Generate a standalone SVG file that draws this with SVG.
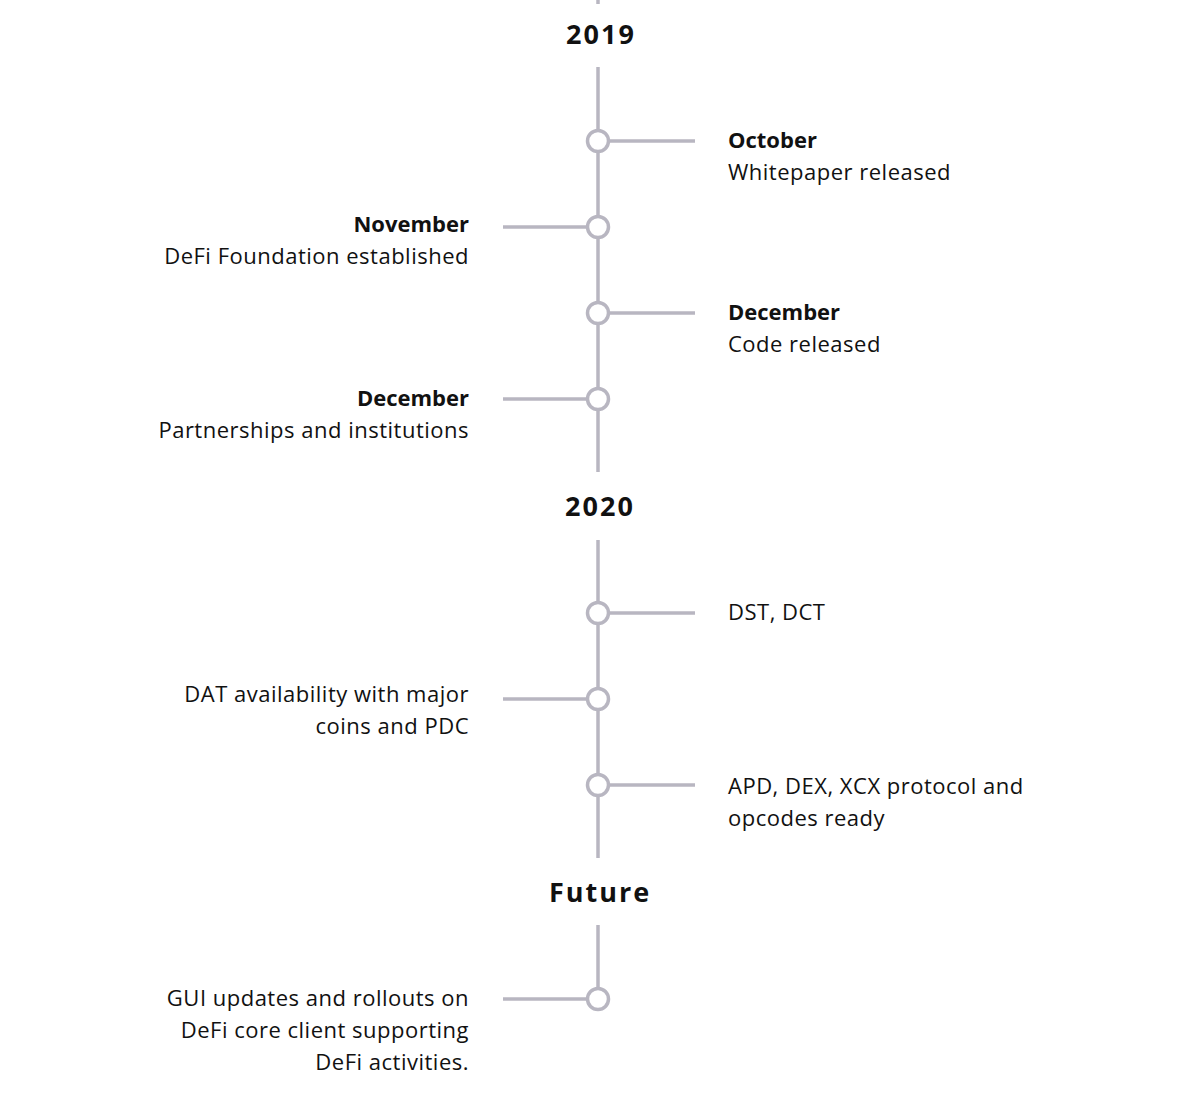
<svg xmlns="http://www.w3.org/2000/svg" width="1200" height="1120" viewBox="0 0 1200 1120">
<style>
.ln{stroke:#b8b6c1;stroke-width:3.5;fill:none}
.dot{stroke:#b8b6c1;stroke-width:3.5;fill:#fff}
.yr{font-family:"Open Sans","Liberation Sans",sans-serif;font-weight:700;font-size:27px;letter-spacing:2px;fill:#111;text-anchor:middle}
.b{font-family:"Open Sans","Liberation Sans",sans-serif;font-weight:700;font-size:22px;fill:#111}
.t{font-family:"Open Sans","Liberation Sans",sans-serif;font-size:22px;letter-spacing:0.5px;fill:#111}
.l{text-anchor:end}
</style>
<rect width="1200" height="1120" fill="#fff"/>
<g id="connectors">
<line class="ln" x1="598" y1="0" x2="598" y2="4"/>
<line class="ln" x1="598" y1="67" x2="598" y2="472"/>
<line class="ln" x1="598" y1="540" x2="598" y2="858"/>
<line class="ln" x1="598" y1="925" x2="598" y2="988"/>
<line class="ln" x1="609" y1="141" x2="695" y2="141"/>
<line class="ln" x1="503" y1="227" x2="587" y2="227"/>
<line class="ln" x1="609" y1="313" x2="695" y2="313"/>
<line class="ln" x1="503" y1="399" x2="587" y2="399"/>
<line class="ln" x1="609" y1="613" x2="695" y2="613"/>
<line class="ln" x1="503" y1="699" x2="587" y2="699"/>
<line class="ln" x1="609" y1="785" x2="695" y2="785"/>
<line class="ln" x1="503" y1="999" x2="587" y2="999"/>
</g>
<g id="y2019"><text class="yr" x="601" y="44">2019</text></g>
<g id="y2020"><text class="yr" x="600" y="516">2020</text></g>
<g id="yfuture"><text class="yr" x="600" y="902">Future</text></g>
<g id="n1"><circle class="dot" cx="598" cy="141" r="10.5"/><text class="b" x="728" y="148">October</text><text class="t" x="728" y="180">Whitepaper released</text></g>
<g id="n2"><circle class="dot" cx="598" cy="227" r="10.5"/><text class="b l" x="469" y="232">November</text><text class="t l" x="469" y="264">DeFi Foundation established</text></g>
<g id="n3"><circle class="dot" cx="598" cy="313" r="10.5"/><text class="b" x="728" y="320">December</text><text class="t" x="728" y="352">Code released</text></g>
<g id="n4"><circle class="dot" cx="598" cy="399" r="10.5"/><text class="b l" x="469" y="406">December</text><text class="t l" x="469" y="438">Partnerships and institutions</text></g>
<g id="n5"><circle class="dot" cx="598" cy="613" r="10.5"/><text class="t" x="728" y="620">DST, DCT</text></g>
<g id="n6"><circle class="dot" cx="598" cy="699" r="10.5"/><text class="t l" x="469" y="702">DAT availability with major</text><text class="t l" x="469" y="734">coins and PDC</text></g>
<g id="n7"><circle class="dot" cx="598" cy="785" r="10.5"/><text class="t" x="728" y="794">APD, DEX, XCX protocol and</text><text class="t" x="728" y="826">opcodes ready</text></g>
<g id="n8"><circle class="dot" cx="598" cy="999" r="10.5"/><text class="t l" x="469" y="1006">GUI updates and rollouts on</text><text class="t l" x="469" y="1038">DeFi core client supporting</text><text class="t l" x="469" y="1070">DeFi activities.</text></g>
</svg>
